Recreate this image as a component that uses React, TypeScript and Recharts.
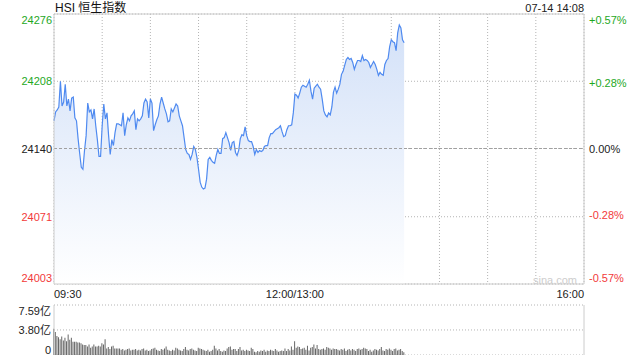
import { ComposedChart, Area, Line, XAxis, YAxis, CartesianGrid, ReferenceLine, BarChart, Bar } from 'recharts';

const PREV_CLOSE = 24140;
const GREEN = '#1ea81e';
const RED = '#f23a3a';
const FONT = 'Arial, "Liberation Sans", "Noto Sans CJK SC", sans-serif';

const priceTicks = [24003, 24071, 24140, 24208, 24276];
const pctTicks = [-0.57, -0.28, 0, 0.28, 0.57];
const volTicks = [0, 3.8, 7.59];
const volLabels: Record<string, string> = { '0': '0', '3.8': '3.80亿', '7.59': '7.59亿' };
const timeTicks = [0, 30, 60, 90, 120, 150, 180, 210, 240, 270, 300, 330];
const timeLabels: Record<number, string> = { 0: '09:30', 150: '12:00/13:00', 330: '16:00' };

// one value per minute from 09:30, last one is 14:08
const prices = [
  24168, 24177, 24179, 24182, 24208, 24183, 24187, 24205, 24183, 24190,
  24178, 24191, 24192, 24171, 24168, 24150, 24135, 24121, 24119, 24138,
  24153, 24186, 24177, 24179, 24170, 24180, 24163, 24149, 24132, 24132,
  24163, 24185, 24170, 24176, 24153, 24134, 24149, 24143, 24156, 24165,
  24165, 24164, 24163, 24176, 24153, 24164, 24171, 24168, 24173, 24175,
  24178, 24159, 24170, 24168, 24170, 24173, 24186, 24190, 24187, 24171,
  24190, 24186, 24158, 24164, 24169, 24173, 24185, 24192, 24186, 24180,
  24175, 24167, 24168, 24180, 24177, 24181, 24185, 24183, 24173, 24168,
  24163, 24151, 24139, 24135, 24134, 24129, 24134, 24142, 24139, 24131,
  24119, 24106, 24101, 24099, 24100, 24109, 24129, 24131, 24128, 24126,
  24125, 24133, 24139, 24135, 24135, 24150, 24151, 24156, 24151, 24146,
  24138, 24146, 24147, 24136, 24133, 24138, 24150, 24154, 24153, 24162,
  24153, 24148, 24147, 24147, 24142, 24134, 24139, 24136, 24138, 24137,
  24138, 24142, 24143, 24143, 24151, 24155, 24155, 24157, 24159, 24160,
  24161, 24163, 24157, 24152, 24153, 24159, 24163, 24163, 24164, 24176,
  24195, 24194, 24191, 24196, 24202, 24204, 24203, 24202, 24205, 24209,
  24198, 24190, 24201, 24203, 24205, 24202, 24200, 24190, 24178, 24174,
  24172, 24176, 24174, 24182, 24197, 24202, 24196, 24200, 24205, 24215,
  24218, 24224, 24230, 24232, 24230, 24231, 24227, 24220, 24225, 24229,
  24229, 24228, 24234, 24229, 24230, 24229, 24227, 24222, 24225, 24228,
  24225, 24220, 24214, 24217, 24215, 24214, 24225, 24229, 24231, 24243,
  24250, 24248, 24247, 24239, 24257, 24265, 24262, 24250, 24247,
];

// volume per minute, 亿
const volumes = [
  4.0, 3.5, 2.9, 2.7, 2.4, 2.8, 2.2, 2.6, 2.1, 3.1,
  2.3, 2.6, 2.0, 2.0, 2.0, 1.9, 1.9, 1.8, 1.6, 1.5,
  1.5, 1.3, 1.6, 1.1, 1.3, 1.6, 1.3, 1.3, 1.4, 1.3,
  1.8, 1.6, 2.4, 1.0, 1.2, 0.9, 1.3, 1.4, 1.0, 1.0,
  1.0, 1.0, 0.8, 0.9, 0.7, 0.8, 0.9, 1.0, 0.7, 0.8,
  0.8, 0.9, 0.7, 0.8, 0.7, 0.9, 1.0, 0.7, 0.8, 0.6,
  0.7, 0.9, 1.0, 1.1, 0.8, 0.7, 0.6, 0.9, 0.8, 1.0,
  1.3, 0.8, 0.7, 0.6, 0.8, 0.7, 1.1, 1.0, 0.8, 0.7,
  0.6, 0.9, 1.2, 0.8, 0.7, 0.9, 1.0, 0.8, 0.7, 0.6,
  1.1, 1.0, 0.9, 0.8, 0.7, 0.6, 0.8, 0.5, 0.6, 0.8,
  1.4, 1.0, 0.7, 0.9, 0.6, 0.5, 0.7, 0.6, 1.0, 1.2,
  1.3, 0.8, 0.9, 0.9, 0.6, 0.9, 1.2, 0.7, 0.8, 0.6,
  0.8, 0.7, 0.6, 1.1, 0.9, 0.5, 0.4, 0.6, 0.5, 0.7,
  0.6, 0.8, 0.5, 0.7, 0.6, 0.8, 0.7, 0.6, 0.9, 0.7,
  0.5, 0.6, 0.7, 0.6, 1.0, 0.6, 0.9, 0.7, 1.3, 0.8,
  2.1, 1.1, 1.3, 1.2, 0.9, 1.0, 1.1, 0.8, 1.4, 0.7,
  1.1, 1.2, 1.6, 1.0, 1.5, 0.9, 0.8, 0.9, 1.0, 0.8,
  1.2, 1.1, 1.0, 0.8, 1.0, 0.9, 0.9, 0.8, 0.7, 0.9,
  0.8, 1.0, 0.6, 0.8, 0.9, 0.7, 0.9, 0.8, 0.6, 0.9,
  1.0, 0.8, 0.9, 1.1, 1.0, 0.9, 0.6, 0.8, 0.5, 0.7,
  0.9, 0.8, 0.7, 0.9, 1.2, 0.7, 0.6, 0.9, 0.8, 1.0,
  0.8, 0.6, 0.9, 1.0, 0.7, 0.8, 0.9, 0.6, 0.4,
];

// change vs previous close, drives the right-hand % axis
const priceData = prices.map((price, t) => ({ t, price, pct: (price / PREV_CLOSE - 1) * 100 }));
const volData = volumes.map((vol, t) => ({ t, vol }));

function labelColor(v: number, mid: number) {
  if (v > mid) return GREEN;
  if (v < mid) return RED;
  return '#222';
}

function PriceTick(props: any) {
  const v = props.payload.value;
  const dy = v === priceTicks[4] ? 6 : v === priceTicks[0] ? -6 : 0;
  return (
    <text x={52} y={props.y + dy} textAnchor="end" dominantBaseline="central" fill={labelColor(v, PREV_CLOSE)} fontSize={11} fontFamily={FONT}>
      {v}
    </text>
  );
}

function PctTick(props: any) {
  const v = props.payload.value;
  const dy = v === 0.57 ? 6 : v === -0.57 ? -6 : 0;
  const txt = (v > 0 ? '+' : '') + v.toFixed(2) + '%';
  return (
    <text x={589} y={props.y + dy} textAnchor="start" dominantBaseline="central" fill={labelColor(v, 0)} fontSize={11} fontFamily={FONT}>
      {txt}
    </text>
  );
}

function TimeTick(props: any) {
  const v = props.payload.value;
  const label = timeLabels[v];
  if (!label) return null;
  const anchor = v === 0 ? 'start' : v === 330 ? 'end' : 'middle';
  return (
    <text x={props.x} y={294} textAnchor={anchor} dominantBaseline="central" fill="#222" fontSize={11} fontFamily={FONT}>
      {label}
    </text>
  );
}

function VolTick(props: any) {
  const v = props.payload.value;
  const dy = v === 7.59 ? 6 : v === 0 ? -5 : 0;
  return (
    <text x={51} y={props.y + dy} textAnchor="end" dominantBaseline="central" fill="#222" fontSize={11} fontFamily={FONT}>
      {volLabels[String(v)]}
    </text>
  );
}

export default function App() {
  return (
    <div style={{ position: 'absolute', left: 0, top: 0, width: 640, height: 360, background: '#fff', fontFamily: FONT }}>
      <div style={{ position: 'absolute', left: 55, top: 0, fontSize: 12, lineHeight: '16px', color: '#111' }}>HSI 恒生指数</div>
      <div style={{ position: 'absolute', right: 56, top: 1, fontSize: 11, lineHeight: '14px', color: '#222' }}>07-14 14:08</div>

      <div style={{ position: 'absolute', left: 0, top: 0 }}>
        <ComposedChart width={640} height={300} data={priceData} margin={{ top: 14, right: 0, bottom: 0, left: 0 }}>
          <defs>
            <linearGradient id="priceFill" x1="0" y1="0" x2="0" y2="1">
              <stop offset="0%" stopColor="#d3e1f8" stopOpacity={1} />
              <stop offset="100%" stopColor="#ffffff" stopOpacity={1} />
            </linearGradient>
          </defs>
          <XAxis dataKey="t" type="number" domain={[0, 330]} ticks={timeTicks} interval={0} height={16} axisLine={false} tickLine={false} tick={TimeTick} />
          <YAxis yAxisId="left" width={54} domain={[24003, 24276]} ticks={priceTicks} interval={0} axisLine={false} tickLine={false} tick={PriceTick} />
          <YAxis yAxisId="right" orientation="right" width={56} domain={[-0.57, 0.57]} allowDataOverflow ticks={pctTicks} interval={0} axisLine={false} tickLine={false} tick={PctTick} />
          <Area yAxisId="left" type="linear" dataKey="price" stroke="#4f8af0" strokeWidth={1.2} fill="url(#priceFill)" fillOpacity={1} dot={false} activeDot={false} isAnimationActive={false} />
          <Line yAxisId="right" type="linear" dataKey="pct" stroke="none" strokeOpacity={0} dot={false} activeDot={false} isAnimationActive={false} />
          <CartesianGrid yAxisId="left" stroke="#b4b4b4" strokeDasharray="1 2" />
          <ReferenceLine yAxisId="left" y={PREV_CLOSE} stroke="#a0a0a0" strokeDasharray="3 2" />
          <ReferenceLine yAxisId="left" y={24276} stroke="#cccccc" />
          <ReferenceLine yAxisId="left" y={24003} stroke="#cccccc" />
          <ReferenceLine yAxisId="left" x={0} stroke="#cccccc" />
          <ReferenceLine yAxisId="left" x={330} stroke="#cccccc" />
        </ComposedChart>
      </div>

      <div style={{ position: 'absolute', left: 533, top: 273, fontSize: 11, lineHeight: '14px', color: '#cdcdcd' }}>sina.com</div>

      <div style={{ position: 'absolute', left: 0, top: 300 }}>
        <BarChart width={640} height={55} data={volData} margin={{ top: 5, right: 56, bottom: 0, left: 0 }}>
          <XAxis dataKey="t" type="number" domain={[0, 330]} hide />
          <YAxis width={54} domain={[0, 7.59]} ticks={volTicks} interval={0} axisLine={false} tickLine={false} tick={VolTick} />
          <CartesianGrid vertical={false} stroke="#b4b4b4" strokeDasharray="1 2" />
          <Bar dataKey="vol" fill="#666666" barSize={1} isAnimationActive={false} />
          <ReferenceLine x={0} stroke="#cccccc" />
          <ReferenceLine x={330} stroke="#cccccc" />
        </BarChart>
      </div>
    </div>
  );
}
